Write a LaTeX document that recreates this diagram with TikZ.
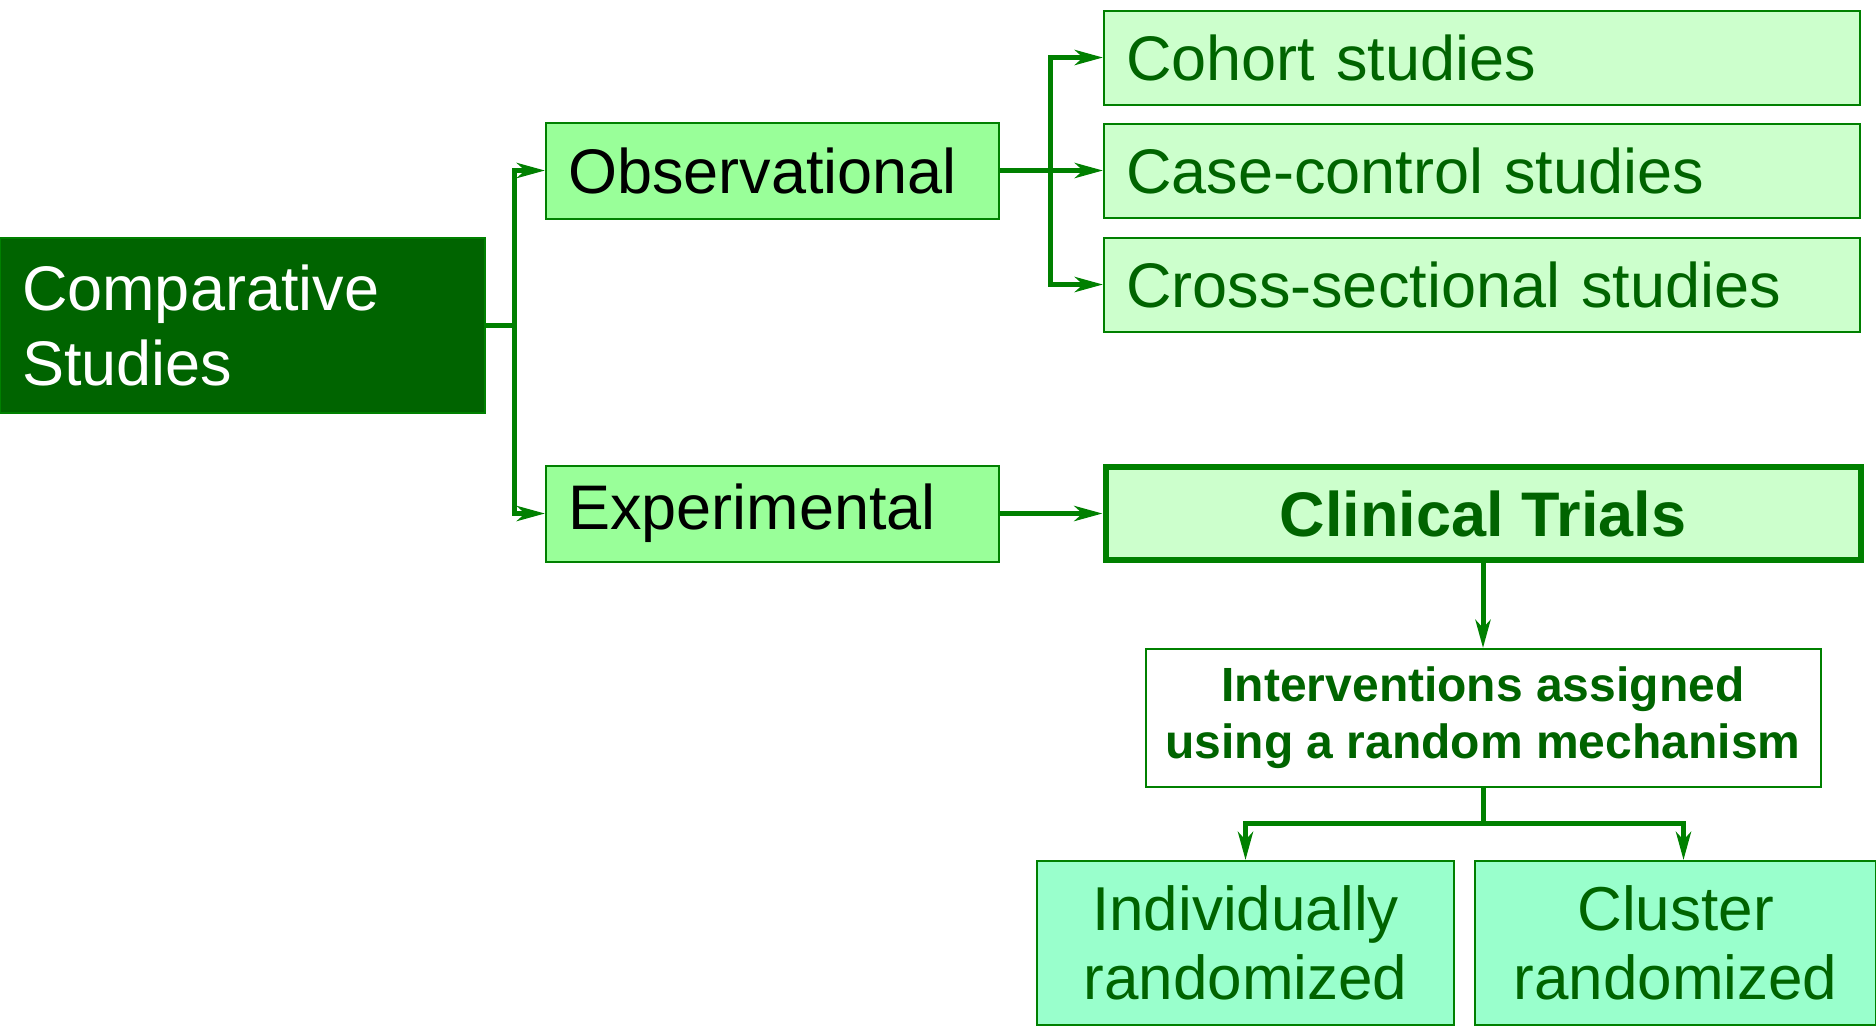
\documentclass[tikz,border=0pt]{standalone}
\usepackage{fontspec}
\setmainfont{Liberation Sans}
\usepackage{xcolor}
\usepackage{tikz}
\usetikzlibrary{arrows.meta}
\definecolor{linkc}{RGB}{0,128,0}
\definecolor{rootc}{RGB}{0,100,0}
\definecolor{textc}{RGB}{0,100,0}
\definecolor{kindc}{RGB}{153,255,153}
\definecolor{studyc}{RGB}{204,255,204}
\definecolor{armc}{RGB}{153,255,204}
\newcommand\bigtxt{\fontsize{31.5}{37.5}\selectfont}
\newcommand\armtxt{\fontsize{31}{34.5}\selectfont}
\newcommand\midtxt{\fontsize{24}{28.5}\selectfont}
\tikzset{
  rootbox/.style  = {draw=linkc, fill=rootc, text=white, line width=1pt,
                     text width=220.5pt, inner xsep=11pt, inner ysep=2pt,
                     minimum height=87.5pt, align=left, font=\bigtxt},
  kindbox/.style  = {draw=linkc, fill=kindc, text=black, line width=1pt,
                     text width=204.5pt, inner xsep=11pt, inner ysep=2pt,
                     minimum height=48pt, align=left, font=\bigtxt},
  studybox/.style = {draw=linkc, fill=studyc, text=textc, line width=1pt,
                     text width=356pt, inner xsep=11pt, inner ysep=2pt,
                     minimum height=47pt, align=left, font=\bigtxt},
  trialbox/.style = {draw=linkc, fill=studyc, text=textc, line width=3pt,
                     minimum width=377.5pt, minimum height=46.5pt,
                     align=center, font=\bigtxt\bfseries},
  notebox/.style  = {draw=linkc, fill=white, text=textc, line width=1pt,
                     minimum width=337.5pt, minimum height=69pt,
                     align=center, font=\midtxt\bfseries},
  armbox/.style   = {draw=linkc, fill=armc, text=textc, line width=1pt,
                     minimum height=82pt, align=center, font=\armtxt},
  wire/.style     = {draw=linkc, line width=2.5pt},
  link/.style     = {wire, -{Stealth[length=14pt, width=7.5pt, inset=4pt]}},
}

\begin{document}
\begin{tikzpicture}[x=0.5pt, y=-0.5pt]
\useasboundingbox (0,0) rectangle (1876,1025);

% ---- left: the two kinds of comparative study ----
\node[rootbox] (comp) at (242.5,325.5) {Comparative\\Studies};
\node[kindbox] (obs) at (772.5,170.5) {Observational};
\node[kindbox] (exper) at (772.5,513.5) {Experimental};

\coordinate (rootfork) at (514,325.5);
\draw[wire] (comp.east) -- (rootfork);
\draw[link] (rootfork) |- (obs.west);
\draw[link] (rootfork) |- (exper.west);

% ---- observational designs ----
\node[studybox] (cohort) at (1482,57.5) {Cohort studies};
\node[studybox] (casectl) at (1482,170.5) {Case-control studies};
\node[studybox] (crosssec) at (1482,284.5) {Cross-sectional studies};

\coordinate (obsfork) at (1050,170.5);
\draw[wire] (obs.east) -- (obsfork);
\draw[link] (obsfork) |- (cohort.west);
\draw[link] (obsfork) -- (casectl.west);
\draw[link] (obsfork) |- (crosssec.west);

% ---- experimental: clinical trials and their arms ----
\node[trialbox] (trials) at (1483,513.5) {Clinical Trials};
\node[notebox] (interv) at (1483,718) {Interventions assigned\\using a random mechanism};
\node[armbox, minimum width=208.5pt] (indiv) at (1245.5,943) {Individually\\randomized};
\node[armbox, minimum width=200.5pt] (cluster) at (1675.5,943) {Cluster\\randomized};

\draw[link] (exper.east) -- (trials.west);
\draw[link] (trials.south) -- (interv.north);

\coordinate (armfork) at (1483,823);
\draw[wire] (interv.south) -- (armfork);
\draw[link] (armfork) -| (indiv.north);
\draw[link] (armfork) -| ([xshift=4pt]cluster.north);

\end{tikzpicture}
\end{document}
